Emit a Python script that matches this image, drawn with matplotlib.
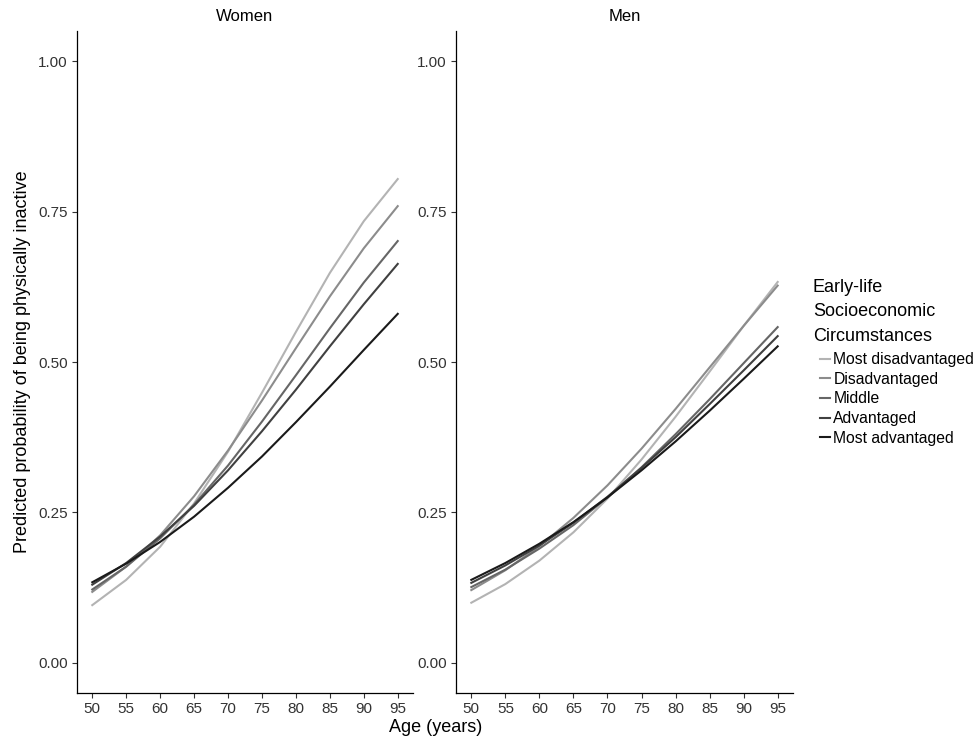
import matplotlib
matplotlib.use("Agg")
import matplotlib.pyplot as plt

plt.rcParams["font.family"] = ["Liberation Sans", "DejaVu Sans"]

age = [50, 55, 60, 65, 70, 75, 80, 85, 90, 95]
groups = ["Most disadvantaged", "Disadvantaged", "Middle", "Advantaged", "Most advantaged"]
greys = ["#b3b3b3", "#8c8c8c", "#666666", "#404040", "#1a1a1a"]
legend_title = ["Early-life", "Socioeconomic", "Circumstances"]

# predicted probabilities
women = {
    "Most disadvantaged": [0.096, 0.138, 0.193, 0.265, 0.351, 0.449, 0.550, 0.648, 0.734, 0.804],
    "Disadvantaged":      [0.118, 0.160, 0.212, 0.277, 0.353, 0.436, 0.523, 0.609, 0.689, 0.759],
    "Middle":             [0.122, 0.160, 0.207, 0.263, 0.328, 0.401, 0.478, 0.556, 0.632, 0.701],
    "Advantaged":         [0.130, 0.166, 0.210, 0.261, 0.320, 0.385, 0.454, 0.526, 0.596, 0.663],
    "Most advantaged":    [0.134, 0.165, 0.201, 0.243, 0.291, 0.343, 0.400, 0.459, 0.520, 0.580],
}
men = {
    "Most disadvantaged": [0.100, 0.131, 0.170, 0.217, 0.273, 0.338, 0.409, 0.484, 0.560, 0.633],
    "Disadvantaged":      [0.121, 0.154, 0.194, 0.241, 0.295, 0.356, 0.422, 0.491, 0.560, 0.627],
    "Middle":             [0.126, 0.155, 0.190, 0.229, 0.275, 0.325, 0.380, 0.438, 0.498, 0.558],
    "Advantaged":         [0.133, 0.162, 0.195, 0.233, 0.276, 0.324, 0.375, 0.430, 0.486, 0.543],
    "Most advantaged":    [0.138, 0.166, 0.198, 0.234, 0.275, 0.320, 0.368, 0.419, 0.472, 0.526],
}

W, H = 978, 739
fig = plt.figure(figsize=(W/100, H/100), dpi=100)
ax1 = fig.add_axes([77/W, 46/H, 336/W, 662/H])
ax2 = fig.add_axes([456/W, 46/H, 337/W, 662/H])

for ax, data, title in [(ax1, women, "Women"), (ax2, men, "Men")]:
    for g, c in zip(groups, greys):
        ax.plot(age, data[g], color=c, lw=1.5, label=g)
    ax.set_xlim(47.75, 97.25)
    ax.set_ylim(-0.05, 1.05)
    ax.set_xticks(age)
    ax.set_yticks([0, 0.25, 0.5, 0.75, 1.0])
    ax.set_yticklabels(["0.00", "0.25", "0.50", "0.75", "1.00"])
    ax.spines[["top", "right"]].set_visible(False)
    for s in ["left", "bottom"]:
        ax.spines[s].set_color("black")
        ax.spines[s].set_linewidth(0.9)
    ax.tick_params(axis="both", direction="out", length=3.5, width=0.8,
                   color="#333333", labelcolor="#333333", labelsize=11, pad=3)
    ax.set_title(title, fontsize=12, pad=7)

ax1.set_ylabel("Predicted probability of being physically inactive", fontsize=13, labelpad=5)
fig.text(436/W, 1 - 728/H, "Age (years)", ha="center", va="center", fontsize=13)

# legend: title lines as text, keys below
for i, t in enumerate(legend_title):
    fig.text(813/W, 1 - (287 + 25*i)/H, t, ha="left", va="center", fontsize=13)
handles, labels = ax1.get_legend_handles_labels()
fig.legend(handles, labels, loc="upper left", bbox_to_anchor=(820/W, 1 - 352/H),
           frameon=False, fontsize=11.3, handlelength=0.65, handletextpad=0.2,
           labelspacing=0.3, borderpad=0, borderaxespad=0)

fig.savefig("out.png", dpi=100)
